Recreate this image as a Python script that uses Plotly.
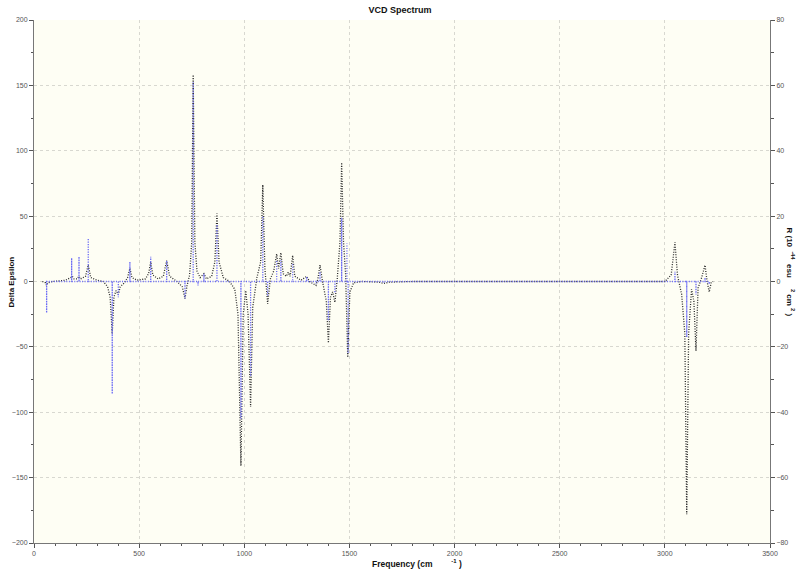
import plotly.graph_objects as go

# Broadened VCD spectrum (Delta Epsilon, left axis)
spec_freq = [40, 55, 60, 66, 90, 150, 175, 182, 190, 205, 214, 222, 245, 258, 270, 300, 330,
             350, 362, 372, 380, 390, 401, 410, 430, 445, 456, 466, 490, 530, 545, 555, 565, 590,
             615, 631, 645, 680, 705, 718, 728, 740, 750, 757, 765, 775, 790, 808, 820, 845, 860,
             870, 880, 900, 930, 955, 970, 984, 995, 1007, 1018, 1030, 1040, 1060, 1078, 1088,
             1098, 1111, 1124, 1140, 1154, 1163, 1174, 1185, 1200, 1209, 1218, 1230, 1240, 1270,
             1297, 1310, 1341, 1350, 1360, 1372, 1390, 1400, 1410, 1420, 1431, 1442, 1455, 1463,
             1472, 1482, 1492, 1502, 1520, 1560, 1640, 1664, 1690, 1800, 3000, 3030, 3048, 3060,
             3080, 3095, 3104, 3113, 3127, 3138, 3148, 3158, 3175, 3191, 3201, 3211, 3220, 3229]
spec_de = [0, -1, -3, -1, 0, 1, 3, 4, 2, 2, 4, 2, 4, 12.6, 3, 1, 0,
           -4, -12, -40, -12, -7, -10, -4, -1, 3, 10, 3, 1, 2, 6, 15, 5, 2,
           4, 16, 4, 0, -4, -13, -3, 5, 30, 158, 30, 8, 3, 6, 2, 4, 15,
           52, 15, 3, 0, -6, -25, -141, -25, -7, -25, -96, -20, 3, 15, 74,
           10, -17, 2, 8, 21, 10, 22, 6, 4, 7, 4, 20, 4, 1,
           4, 0, -3, 2, 12.5, 0, -15, -47, -12, -8, -16, 2, 30, 91,
           30, 5, -58, -8, -1, 0, -0.5, -1.5, -0.5, 0, 0, 5, 30, 5,
           -10, -40, -178, -40, -6, -15, -53, -5, 3, 12.5, 0, -8, -1, 0]

# Rotational strengths (sticks, right axis)
stick_freq = [60, 179, 214, 258, 372, 401, 456, 555, 631, 718, 757, 780, 808, 870, 984, 1030,
              1088, 1111, 1154, 1174, 1230, 1297, 1341, 1360, 1400, 1431, 1463, 1488, 1494,
              1664, 3048, 3104, 3148, 3191, 3211]
stick_r = [-9.6, 7.2, 7.6, 13.2, -34.4, -4.8, 6.0, 7.6, 6.4, -5.2, 61, -1.2, 2.4, 17.5, -42, -29,
           20, -4.5, 6.5, 6.5, 5.5, 1.5, -0.8, 3.0, -12, -3.5, 19.5, 11.6, -22,
           -0.4, 3.0, -17, -4.0, 1.2, -0.8]

x_ticks = [0, 500, 1000, 1500, 2000, 2500, 3000, 3500]

sx, sy = [], []
for f, r in zip(stick_freq, stick_r):
    sx += [f, f, f]
    sy += [0, r, 0]

fig = go.Figure()
fig.add_trace(go.Scatter(x=sx, y=sy, mode="lines", yaxis="y2",
                         line=dict(color="#6a6af5", width=1.3, dash="1px,1.5px"),
                         showlegend=False, hoverinfo="skip"))
fig.add_trace(go.Scatter(x=spec_freq, y=spec_de, mode="lines", yaxis="y",
                         line=dict(color="#2a2a2a", width=1.3, dash="1px,1.5px"),
                         showlegend=False))

tickfont = dict(family="Liberation Sans, Arial", size=7, color="#555555")
nb = "&nbsp;"
fig.update_layout(
    width=800, height=570,
    margin=dict(l=34, r=30, t=20, b=27, autoexpand=False),
    paper_bgcolor="white",
    plot_bgcolor="#fefef4",
    title=dict(text="<b>VCD Spectrum</b>", x=0.5, xanchor="center", y=0.982, yanchor="middle",
               font=dict(family="Liberation Sans, Arial", size=9, color="#111111")),
    xaxis=dict(range=[0, 3500], tickvals=x_ticks, ticks="outside", ticklen=4,
               tickcolor="#555555", showline=True, linecolor="#777777", linewidth=1,
               showgrid=True, gridcolor="#d8d8d0", griddash="dot", gridwidth=1,
               zeroline=False, tickfont=tickfont, automargin=False,
               minor=dict(ticks="outside", dtick=100, ticklen=2, tickcolor="#555555", showgrid=False)),
    yaxis=dict(range=[-200, 200], dtick=50, ticks="outside", ticklen=4,
               tickcolor="#555555", showline=True, linecolor="#777777", linewidth=1,
               showgrid=True, gridcolor="#d8d8d0", griddash="dot", gridwidth=1,
               zeroline=False, tickfont=tickfont, automargin=False,
               minor=dict(ticks="outside", dtick=25, ticklen=2, tickcolor="#555555", showgrid=False)),
    yaxis2=dict(range=[-80, 80], dtick=20, overlaying="y", side="right", ticks="outside",
                ticklen=4, tickcolor="#555555", showline=True, linecolor="#777777", linewidth=1,
                showgrid=False, zeroline=False, tickfont=tickfont, automargin=False,
                minor=dict(ticks="outside", dtick=10, ticklen=3, tickcolor="#555555")),
    annotations=[
        dict(text="<b>Frequency (cm" + nb * 8 + "<sup>-1</sup>" + nb + ")</b>",
             xref="paper", yref="paper",
             x=0.52, y=-0.040, xanchor="center", yanchor="middle", showarrow=False,
             font=dict(family="Liberation Sans, Arial", size=8.5, color="#111111")),
        dict(text="<b>Delta Epsilon</b>", xref="paper", yref="paper", x=-0.03, y=0.5,
             xanchor="center", yanchor="middle", textangle=-90, showarrow=False,
             font=dict(family="Liberation Sans, Arial", size=8, color="#111111")),
        dict(text="<b>R (10" + nb * 2 + "<sup>-44</sup>" + nb * 2 + "esu" + nb * 5
                  + "<sup>2</sup>" + nb + "cm" + nb + "<sup>2</sup>" + nb + ")</b>",
             xref="paper", yref="paper", x=1.028, y=0.518,
             xanchor="center", yanchor="middle", textangle=90, showarrow=False,
             font=dict(family="Liberation Sans, Arial", size=8, color="#111111")),
    ],
)

fig.write_html("out.html", config={"displayModeBar": False},
               post_script="document.body.style.margin='0';document.body.style.padding='0';")
